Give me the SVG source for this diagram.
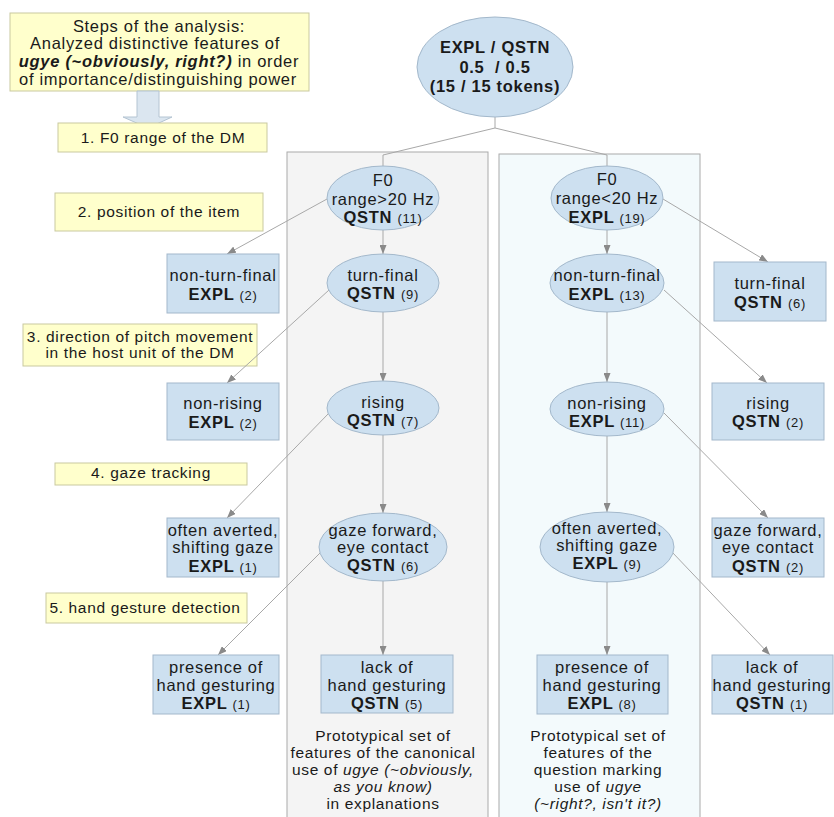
<svg xmlns="http://www.w3.org/2000/svg" width="834" height="817" viewBox="0 0 834 817">
<style>
text{font-family:"Liberation Sans",Arial,sans-serif;fill:#1a1a1a;text-anchor:middle}
.n{font-size:16.5px;letter-spacing:0.7px}
.b{font-weight:bold}
.s{font-size:13px;font-weight:normal}
.l{font-size:15.5px;letter-spacing:0.65px}
.p{font-size:15px;letter-spacing:0.65px}
.node{fill:#cde0f0;stroke:#a3b8cb;stroke-width:1}
.yl{fill:#ffffcc;stroke:#c9c9a0;stroke-width:1}
.edge{fill:none;stroke:#a8a8a8;stroke-width:1}
.arr{marker-end:url(#ah)}
</style>
<defs>
<marker id="ah" markerUnits="userSpaceOnUse" markerWidth="9" markerHeight="7" refX="9" refY="3.5" orient="auto">
<path d="M0,0 L9,3.5 L0,7 z" fill="#8a8a8a"/>
</marker>
</defs>
<rect width="834" height="817" fill="#ffffff"/>

<g id="panels">
<rect x="287" y="152" width="201" height="670" fill="#f4f4f4" stroke="#aaaaaa"/>
<rect x="499" y="154" width="201" height="668" fill="#f3fafc" stroke="#aaaaaa"/>
</g>

<g id="steps">
<g id="title">
<rect class="yl" x="10" y="13" width="299" height="78"/>
<text class="n" x="159" y="32">Steps of the analysis:</text>
<text class="n" x="155" y="49">Analyzed distinctive features of</text>
<text class="n" x="159" y="67"><tspan font-weight="bold" font-style="italic">ugye (~obviously, right?)</tspan> in order</text>
<text class="n" x="158" y="85">of importance/distinguishing power</text>
</g>
<polygon points="137,91 159,91 159,117 172,117 148,128 123,117 137,117" fill="#dbe6f0" stroke="#b4c4d2"/>
<g id="step1"><rect class="yl" x="58" y="123" width="209" height="29"/><text class="l" x="163" y="143">1. F0 range of the DM</text></g>
<g id="step2"><rect class="yl" x="55" y="193" width="208" height="38"/><text class="l" x="159" y="217">2. position of the item</text></g>
<g id="step3"><rect class="yl" x="23" y="324" width="234" height="42"/><text class="l" x="140" y="342">3. direction of pitch movement</text><text class="l" x="140" y="358">in the host unit of the DM</text></g>
<g id="step4"><rect class="yl" x="55" y="463" width="192" height="22"/><text class="l" x="151" y="478">4. gaze tracking</text></g>
<g id="step5"><rect class="yl" x="46" y="593" width="201" height="30"/><text class="l" x="145" y="613">5. hand gesture detection</text></g>
</g>

<g id="connectors">
<polyline class="edge" points="495,117 495,128 383,155 383,166"/>
<polyline class="edge" points="495,128 607,155 607,167"/>
<line class="edge arr" x1="383" y1="230" x2="383" y2="254"/>
<line class="edge arr" x1="383" y1="312" x2="383" y2="382"/>
<line class="edge arr" x1="383" y1="435" x2="383" y2="513"/>
<line class="edge arr" x1="383" y1="581" x2="383" y2="655"/>
<line class="edge arr" x1="607" y1="230" x2="607" y2="254"/>
<line class="edge arr" x1="607" y1="312" x2="607" y2="382"/>
<line class="edge arr" x1="607" y1="436" x2="607" y2="512"/>
<line class="edge arr" x1="607" y1="582" x2="607" y2="655"/>
<line class="edge arr" x1="327" y1="199" x2="227" y2="254"/>
<line class="edge arr" x1="329" y1="290" x2="227" y2="383"/>
<line class="edge arr" x1="329" y1="413" x2="227" y2="518"/>
<line class="edge arr" x1="321" y1="552" x2="218" y2="655"/>
<line class="edge arr" x1="663" y1="199" x2="768" y2="262"/>
<line class="edge arr" x1="664" y1="290" x2="767" y2="383"/>
<line class="edge arr" x1="664" y1="413" x2="768" y2="518"/>
<line class="edge arr" x1="672" y1="552" x2="770" y2="655"/>
</g>

<g id="root">
<ellipse class="node" cx="495" cy="67" rx="78" ry="50"/>
<text class="n b" x="495" y="53">EXPL / QSTN</text>
<text class="n b" x="495" y="73" xml:space="preserve">0.5  / 0.5</text>
<text class="n b" x="495" y="92">(15 / 15 tokens)</text>
</g>

<g id="f0-high">
<ellipse class="node" cx="383" cy="198" rx="56" ry="32"/>
<text class="n" x="383" y="186">F0</text>
<text class="n" x="383" y="205">range&gt;20 Hz</text>
<text class="n b" x="383" y="223">QSTN <tspan class="s">(11)</tspan></text>
</g>
<g id="turn-final-l">
<ellipse class="node" cx="383" cy="283" rx="56" ry="29"/>
<text class="n" x="383" y="281">turn-final</text>
<text class="n b" x="383" y="299">QSTN <tspan class="s">(9)</tspan></text>
</g>
<g id="rising-l">
<ellipse class="node" cx="383" cy="408" rx="56" ry="27"/>
<text class="n" x="383" y="408">rising</text>
<text class="n b" x="383" y="426">QSTN <tspan class="s">(7)</tspan></text>
</g>
<g id="gaze-fwd-l">
<ellipse class="node" cx="383" cy="547" rx="64" ry="34"/>
<text class="n" x="383" y="536">gaze forward,</text>
<text class="n" x="383" y="553">eye contact</text>
<text class="n b" x="383" y="571">QSTN <tspan class="s">(6)</tspan></text>
</g>
<g id="lack-l">
<rect class="node" x="321" y="655" width="132" height="58"/>
<text class="n" x="387" y="673">lack of</text>
<text class="n" x="387" y="691">hand gesturing</text>
<text class="n b" x="387" y="709">QSTN <tspan class="s">(5)</tspan></text>
</g>
<g id="proto-l">
<text class="l" x="383" y="741">Prototypical set of</text>
<text class="l" x="383" y="758">features of the canonical</text>
<text class="l" x="383" y="775">use of <tspan font-style="italic">ugye (~obviously,</tspan></text>
<text class="l" x="383" y="792" font-style="italic">as you know)</text>
<text class="l" x="383" y="809">in explanations</text>
</g>

<g id="ntf-l">
<rect class="node" x="167" y="254" width="112" height="59"/>
<text class="n" x="223" y="281">non-turn-final</text>
<text class="n b" x="223" y="300">EXPL <tspan class="s">(2)</tspan></text>
</g>
<g id="nr-l">
<rect class="node" x="167" y="383" width="112" height="57"/>
<text class="n" x="223" y="409">non-rising</text>
<text class="n b" x="223" y="428">EXPL <tspan class="s">(2)</tspan></text>
</g>
<g id="avert-l">
<rect class="node" x="167" y="518" width="112" height="59"/>
<text class="n" x="223" y="536">often averted,</text>
<text class="n" x="223" y="553">shifting gaze</text>
<text class="n b" x="223" y="572">EXPL <tspan class="s">(1)</tspan></text>
</g>
<g id="pres-l">
<rect class="node" x="153" y="655" width="126" height="59"/>
<text class="n" x="216" y="673">presence of</text>
<text class="n" x="216" y="691">hand gesturing</text>
<text class="n b" x="216" y="709">EXPL <tspan class="s">(1)</tspan></text>
</g>

<g id="f0-low">
<ellipse class="node" cx="607" cy="198" rx="56" ry="32"/>
<text class="n" x="607" y="185">F0</text>
<text class="n" x="607" y="204">range&lt;20 Hz</text>
<text class="n b" x="607" y="223">EXPL <tspan class="s">(19)</tspan></text>
</g>
<g id="ntf-r">
<ellipse class="node" cx="607" cy="283" rx="57" ry="29"/>
<text class="n" x="607" y="281">non-turn-final</text>
<text class="n b" x="607" y="300">EXPL <tspan class="s">(13)</tspan></text>
</g>
<g id="nr-r">
<ellipse class="node" cx="607" cy="409" rx="57" ry="27"/>
<text class="n" x="607" y="409">non-rising</text>
<text class="n b" x="607" y="427">EXPL <tspan class="s">(11)</tspan></text>
</g>
<g id="avert-r">
<ellipse class="node" cx="607" cy="547" rx="67" ry="35"/>
<text class="n" x="607" y="534">often averted,</text>
<text class="n" x="607" y="551">shifting gaze</text>
<text class="n b" x="607" y="569">EXPL <tspan class="s">(9)</tspan></text>
</g>
<g id="pres-r">
<rect class="node" x="537" y="655" width="131" height="59"/>
<text class="n" x="602" y="673">presence of</text>
<text class="n" x="602" y="691">hand gesturing</text>
<text class="n b" x="602" y="709">EXPL <tspan class="s">(8)</tspan></text>
</g>
<g id="proto-r">
<text class="l" x="598" y="741">Prototypical set of</text>
<text class="l" x="598" y="758">features of the</text>
<text class="l" x="598" y="775">question marking</text>
<text class="l" x="598" y="792">use of <tspan font-style="italic">ugye</tspan></text>
<text class="l" x="598" y="809" font-style="italic">(~right?, isn't it?)</text>
</g>

<g id="tf-r">
<rect class="node" x="714" y="262" width="112" height="59"/>
<text class="n" x="770" y="289">turn-final</text>
<text class="n b" x="770" y="308">QSTN <tspan class="s">(6)</tspan></text>
</g>
<g id="rising-r">
<rect class="node" x="712" y="383" width="112" height="57"/>
<text class="n" x="768" y="409">rising</text>
<text class="n b" x="768" y="427">QSTN <tspan class="s">(2)</tspan></text>
</g>
<g id="gaze-fwd-r">
<rect class="node" x="712" y="518" width="112" height="59"/>
<text class="n" x="768" y="536">gaze forward,</text>
<text class="n" x="768" y="553">eye contact</text>
<text class="n b" x="768" y="572">QSTN <tspan class="s">(2)</tspan></text>
</g>
<g id="lack-r">
<rect class="node" x="712" y="655" width="121" height="59"/>
<text class="n" x="772" y="673">lack of</text>
<text class="n" x="772" y="691">hand gesturing</text>
<text class="n b" x="772" y="709">QSTN <tspan class="s">(1)</tspan></text>
</g>
</svg>
